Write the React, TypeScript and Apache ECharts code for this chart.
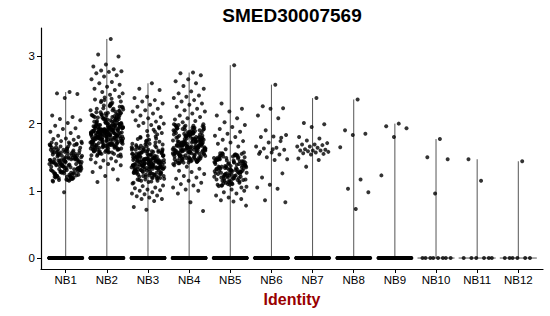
import React, { useEffect, useRef } from "react";
import * as echarts from "echarts";

const categories = ["NB1", "NB2", "NB3", "NB4", "NB5", "NB6", "NB7", "NB8", "NB9", "NB10", "NB11", "NB12"];
const yTicks = [0, 1, 2, 3];
const chartTitle = "SMED30007569";
const xTitle = "Identity";

const nb1 = [
  2.47, 2.45, 2.44, 2.38, 2.12, 2.10, 2.07, 2.05, 2.01, 1.97, 1.93, 1.92, 1.88, 1.86, 1.82, 1.80, 1.78, 1.77, 1.76, 1.74, 1.73, 1.72, 1.70, 1.70, 0.98,
  1.42, 1.18, 1.55, 1.31, 1.63, 1.25, 1.47, 1.37, 1.69, 1.22, 1.51, 1.34, 1.44, 1.15, 1.58, 1.28, 1.40, 1.66, 1.20, 1.49,
  1.36, 1.61, 1.27, 1.53, 1.43, 1.17, 1.57, 1.32, 1.46, 1.71, 1.24, 1.39, 1.52, 1.30, 1.64, 1.19, 1.45, 1.35, 1.59, 1.26,
  1.48, 1.41, 1.68, 1.21, 1.54, 1.33, 1.43, 1.14, 1.60, 1.29, 1.50, 1.38, 1.65, 1.23, 1.46, 1.36, 1.56, 1.16, 1.44, 1.31,
  1.62, 1.27, 1.52, 1.40, 1.70, 1.22, 1.47, 1.34, 1.58, 1.18, 1.41, 1.30, 1.55, 1.25, 1.49, 1.37, 1.67, 1.20, 1.45, 1.33,
  1.60, 1.28, 1.53, 1.39, 1.43, 1.15, 1.57, 1.32, 1.48, 1.72, 1.24, 1.42, 1.35, 1.63, 1.21, 1.51, 1.38, 1.46, 1.17, 1.59,
  1.29, 1.44, 1.54, 1.26, 1.66, 1.36, 1.50, 1.23, 1.40, 1.61, 1.31, 1.47, 1.19, 1.56, 1.34, 1.43, 1.68, 1.27, 1.52, 1.39,
  1.22, 1.45, 1.58, 1.30, 1.49, 1.37, 1.64, 1.16, 1.41, 1.55, 1.28, 1.46, 1.35, 1.62, 1.24, 1.50, 1.42, 1.20, 1.57, 1.33,
  1.48, 1.38, 1.69, 1.26, 1.44, 1.53, 1.32, 1.60, 1.21, 1.47,
];

const nb2 = [
  3.26, 3.03, 3.00, 2.88, 2.85, 2.81, 2.79, 2.78, 2.77, 2.75, 2.72, 2.70, 2.66, 2.62, 2.60, 2.58, 2.55, 2.52, 2.50, 2.47, 2.45, 2.43,
  1.13, 1.17, 1.22, 1.28, 1.32, 1.35, 1.38, 1.40, 1.42, 1.44, 1.45, 1.47, 1.48,
  1.88, 1.62, 2.12, 1.75, 1.97, 1.55, 2.25, 1.83, 1.68, 2.05, 1.92, 1.71, 2.31, 1.59, 1.86, 2.01, 1.78, 2.18, 1.65, 1.94,
  1.81, 2.09, 1.52, 1.90, 1.73, 2.22, 1.87, 1.63, 1.99, 1.77, 2.14, 1.69, 1.85, 2.37, 1.58, 1.95, 1.80, 2.03, 1.66, 1.91,
  1.74, 2.27, 1.84, 1.61, 2.07, 1.89, 1.70, 1.98, 1.54, 2.16, 1.82, 1.93, 1.67, 2.20, 1.76, 1.87, 2.10, 1.60, 1.96, 1.79,
  2.34, 1.72, 1.89, 2.00, 1.64, 1.85, 2.13, 1.57, 1.92, 1.81, 2.06, 1.69, 1.97, 1.76, 2.24, 1.83, 1.62, 1.90, 2.02, 1.74,
  1.88, 2.17, 1.51, 1.94, 1.79, 2.08, 1.66, 1.86, 2.29, 1.71, 1.99, 1.84, 1.59, 2.11, 1.77, 1.93, 1.68, 2.04, 1.82, 2.39,
  1.73, 1.91, 1.56, 2.15, 1.87, 1.64, 1.98, 1.80, 2.21, 1.70, 1.95, 1.85, 2.01, 1.61, 1.89, 2.32, 1.75, 1.92, 1.67, 2.09,
  1.83, 1.53, 1.97, 1.78, 2.19, 1.88, 1.65, 2.05, 1.72, 1.94, 2.26, 1.81, 1.90, 1.58, 2.12, 1.76, 1.86, 2.00, 1.69, 1.93,
  1.84, 2.23, 1.63, 1.96, 1.79, 2.07, 1.74, 1.89, 1.55, 2.14, 1.87, 1.70, 2.02, 1.82, 2.35, 1.66, 1.91, 1.78, 1.99, 1.60,
  2.10, 1.85, 1.73, 1.95, 2.28, 1.80, 1.62, 2.04, 1.88, 1.68, 1.92, 2.16, 1.57, 1.86, 1.77, 2.08, 1.83, 1.71, 1.98, 2.40,
  1.75, 1.90, 1.64, 2.13, 1.81, 1.94, 1.52, 2.01, 1.87, 1.69, 2.20, 1.84, 1.78, 1.97, 1.60, 2.06, 1.89, 1.72, 2.30, 1.80,
  1.93, 1.67, 2.11, 1.86, 1.76, 1.99, 1.58, 2.17, 1.82, 1.91, 1.73, 2.03, 1.88, 2.25, 1.65, 1.95, 1.79, 2.09, 1.70, 1.85,
  1.54, 2.14, 1.90, 1.77, 2.00, 1.83, 2.33, 1.63, 1.96, 1.74, 2.07, 1.87, 1.68, 1.92, 2.19, 1.81, 1.59, 2.02, 1.86, 1.75,
  1.94, 2.22, 1.71, 1.89, 1.80, 2.10, 1.56, 1.97, 1.84, 2.36, 1.66, 1.91, 1.78, 2.05, 1.88, 1.73, 2.15, 1.61, 1.93, 1.82,
  2.01, 1.76, 1.98, 1.69, 2.27, 1.85, 1.90, 1.64, 2.12, 1.79,
];

const nb3 = [
  2.60, 2.52, 2.50, 2.40, 2.38, 2.35, 2.33, 2.30, 2.28, 2.25, 2.22, 2.20, 2.18, 2.15, 2.12, 2.10, 2.08, 2.05, 2.03, 2.01, 2.00, 1.98, 1.97, 1.95,
  0.72, 0.76, 0.85, 0.88, 0.88, 0.90, 0.92, 0.93, 0.95, 0.96, 0.98, 1.00, 1.01, 1.02, 1.04, 1.05, 1.07, 1.08,
  1.45, 1.32, 1.58, 1.21, 1.50, 1.38, 1.67, 1.27, 1.43, 1.55, 1.35, 1.62, 1.18, 1.47, 1.40, 1.73, 1.30, 1.52, 1.24, 1.44,
  1.60, 1.36, 1.49, 1.15, 1.41, 1.70, 1.33, 1.56, 1.28, 1.46, 1.39, 1.81, 1.22, 1.53, 1.37, 1.64, 1.31, 1.48, 1.12, 1.42,
  1.57, 1.34, 1.76, 1.26, 1.51, 1.40, 1.65, 1.20, 1.45, 1.36, 1.59, 1.29, 1.88, 1.44, 1.33, 1.54, 1.17, 1.47, 1.69, 1.38,
  1.25, 1.50, 1.42, 1.61, 1.30, 1.78, 1.35, 1.46, 1.14, 1.53, 1.41, 1.66, 1.27, 1.49, 1.37, 1.58, 1.23, 1.44, 1.84, 1.32,
  1.55, 1.39, 1.63, 1.19, 1.48, 1.34, 1.72, 1.28, 1.52, 1.43, 1.36, 1.60, 1.24, 1.46, 1.91, 1.31, 1.57, 1.40, 1.68, 1.21,
  1.47, 1.35, 1.54, 1.16, 1.42, 1.75, 1.29, 1.50, 1.38, 1.62, 1.26, 1.45, 1.33, 1.59, 1.11, 1.49, 1.80, 1.37, 1.53, 1.30,
  1.44, 1.64, 1.22, 1.41, 1.56, 1.34, 1.71, 1.27, 1.48, 1.39, 1.86, 1.32, 1.51, 1.18, 1.46, 1.61, 1.36, 1.43, 1.25, 1.55,
  1.40, 1.67, 1.29, 1.52, 1.35, 1.77, 1.20, 1.47, 1.38, 1.58, 1.31, 1.44, 1.13, 1.50, 1.65, 1.37, 1.42, 1.26, 1.54, 1.93,
  1.34, 1.48, 1.23, 1.57, 1.39, 1.70, 1.28, 1.45, 1.41, 1.63, 1.19, 1.51, 1.36, 1.82, 1.30, 1.46, 1.60, 1.33, 1.53, 1.24,
  1.43, 1.74, 1.37, 1.49, 1.15, 1.56, 1.40, 1.66, 1.27, 1.47, 1.35, 1.59, 1.21, 1.44, 1.89, 1.32, 1.52, 1.38, 1.69, 1.29,
  1.50, 1.42, 1.17, 1.55, 1.36, 1.79, 1.25, 1.48, 1.61, 1.34,
];

const nb4 = [
  2.76, 2.75, 2.72, 2.66, 2.63, 2.60, 2.56, 2.52, 2.48, 2.45, 2.42, 2.40, 2.38, 2.35, 2.33, 2.30, 2.28, 2.25, 2.22, 2.20,
  2.18, 2.15, 2.12, 2.10, 2.08, 2.06, 2.04, 2.02,
  0.70, 0.83, 0.96, 1.00, 1.02, 1.05, 1.08, 1.10, 1.12, 1.15, 1.18, 1.20, 1.22, 1.25, 1.28, 1.30, 1.33, 1.36, 1.38,
  1.65, 1.48, 1.82, 1.57, 1.93, 1.44, 1.71, 1.60, 1.87, 1.52, 1.76, 1.63, 1.98, 1.46, 1.68, 1.55, 1.84, 1.41, 1.73, 1.61,
  1.90, 1.50, 1.67, 1.79, 1.58, 1.95, 1.43, 1.70, 1.62, 1.86, 1.53, 1.75, 1.66, 1.47, 1.89, 1.59, 1.72, 1.81, 1.45, 1.64,
  1.97, 1.56, 1.78, 1.69, 1.51, 1.85, 1.60, 1.74, 1.42, 1.92, 1.66, 1.54, 1.80, 1.63, 1.99, 1.49, 1.71, 1.58, 1.88, 1.67,
  1.44, 1.77, 1.61, 1.94, 1.52, 1.69, 1.83, 1.56, 1.73, 1.47, 1.91, 1.64, 1.57, 1.79, 1.68, 1.40, 1.86, 1.62, 1.75, 1.50,
  1.96, 1.59, 1.72, 1.65, 1.45, 1.82, 1.55, 1.70, 1.88, 1.53, 1.67, 1.78, 1.48, 1.93, 1.60, 1.74, 1.63, 1.85, 1.43, 1.69,
  1.57, 1.90, 1.66, 1.51, 1.76, 1.61, 1.98, 1.46, 1.81, 1.64, 1.54, 1.72, 1.87, 1.58, 1.68, 1.44, 1.95, 1.62, 1.77, 1.49,
  1.84, 1.65, 1.56, 1.71, 1.92, 1.60, 1.47, 1.80, 1.67, 1.53, 1.75, 1.97, 1.58, 1.69, 1.42, 1.86, 1.63, 1.73, 1.55, 1.89,
  1.66, 1.50, 1.78, 1.61, 1.94, 1.45, 1.70, 1.83, 1.57, 1.64, 1.91, 1.52, 1.74, 1.68, 1.48, 1.87, 1.59, 1.76, 1.62, 1.99,
  1.44, 1.71, 1.65, 1.81, 1.54, 1.93, 1.60, 1.67, 1.46, 1.79, 1.57, 1.85, 1.63, 1.72, 1.41, 1.90, 1.66, 1.51, 1.77, 1.69,
  1.96, 1.58, 1.74, 1.47, 1.82, 1.62, 1.88, 1.53, 1.70, 1.64, 1.43, 1.80, 1.60, 1.95, 1.56, 1.73, 1.67, 1.49, 1.84, 1.61,
];

const nb5 = [
  2.87, 2.30, 2.22, 2.18, 2.12, 2.08, 2.02, 1.98, 1.95, 1.92, 1.88, 1.85, 1.82, 1.80, 1.76, 1.74, 1.72, 1.70, 1.66, 1.62,
  0.78, 0.84, 0.86, 0.88, 0.90, 0.93, 0.96, 0.98, 1.00, 1.02,
  1.30, 1.12, 1.45, 1.21, 1.53, 1.08, 1.38, 1.26, 1.49, 1.16, 1.34, 1.42, 1.19, 1.56, 1.28, 1.10, 1.40, 1.23, 1.51, 1.33,
  1.14, 1.47, 1.27, 1.36, 1.06, 1.43, 1.20, 1.55, 1.31, 1.17, 1.39, 1.24, 1.50, 1.11, 1.35, 1.44, 1.22, 1.29, 1.54, 1.15,
  1.41, 1.32, 1.09, 1.48, 1.25, 1.37, 1.18, 1.52, 1.28, 1.13, 1.46, 1.34, 1.21, 1.57, 1.30, 1.07, 1.40, 1.26, 1.49, 1.19,
  1.36, 1.44, 1.15, 1.33, 1.53, 1.23, 1.38, 1.10, 1.47, 1.29, 1.20, 1.42, 1.31, 1.55, 1.16, 1.37, 1.25, 1.50, 1.12, 1.35,
  1.45, 1.27, 1.05, 1.41, 1.32, 1.52, 1.18, 1.39, 1.24, 1.48, 1.14, 1.34, 1.43, 1.22, 1.56, 1.30, 1.09, 1.46, 1.28, 1.37,
  1.17, 1.51, 1.33, 1.21, 1.40, 1.26, 1.54, 1.11, 1.44, 1.31, 1.36, 1.19, 1.49, 1.27, 1.42, 1.08, 1.35, 1.23, 1.47, 1.32,
  1.15, 1.38, 1.29, 1.52, 1.25,
];

const nb6 = [
  2.58, 2.26, 2.23, 2.22, 2.12, 2.08, 1.90, 1.83, 1.81, 1.80, 1.79, 1.72, 1.66, 1.64, 1.63, 1.61,
  1.57, 1.55, 1.54, 1.50, 1.47, 1.46, 1.20, 1.26, 1.09, 1.05, 1.03, 0.86, 0.83, 1.62, 1.58, 1.74,
];
const nb7 = [
  2.38, 2.01, 1.99, 1.95, 1.80, 1.78, 1.75, 1.71, 1.69, 1.69, 1.68, 1.66, 1.66, 1.64,
  1.62, 1.61, 1.60, 1.60, 1.60, 1.59, 1.58, 1.57, 1.56, 1.55, 1.54, 1.48, 1.46, 1.36,
];
const nb8 = [2.36, 1.90, 1.85, 1.83, 1.65, 1.17, 1.03, 0.98, 0.73];
const nb9 = [2.0, 1.96, 1.93, 1.80, 1.23];
const nb10 = [1.77, 1.5, 1.47, 0.96];
const nb11 = [1.15, 1.47];
const nb12 = [1.44];

const zeroCounts = [300, 260, 280, 260, 240, 200, 180, 160, 150, 8, 6, 6];

export default function App() {
  const ref = useRef<HTMLDivElement>(null);
  useEffect(() => {
    if (!ref.current) return;
    const chart = echarts.init(ref.current, null, { renderer: "svg" });
    const groups = [nb1, nb2, nb3, nb4, nb5, nb6, nb7, nb8, nb9, nb10, nb11, nb12];
    const points: number[][] = [];
    groups.forEach((vals, g) => {
      const all = vals.concat(new Array(zeroCounts[g]).fill(0));
      all.forEach((v, i) => {
        const f = ((i + 1) * 0.6180339887) % 1;
        points.push([g + 1 + (f - 0.5) * 0.8, v]);
      });
    });
    const maxes = groups.map((v, g) => [g + 1, Math.max(...v)]);
    const yMax = Math.max(...groups.map((v) => Math.max(...v)));
    const pad = yMax * 0.05;
    const catVals = categories.map((_, i) => i + 1);
    const font = "Liberation Sans, Arial, Helvetica, sans-serif";

    chart.setOption({
      animation: false,
      grid: { left: 41, right: 7, top: 28, bottom: 47 },
      xAxis: {
        type: "value",
        min: 0.4,
        max: 12.6,
        splitLine: { show: false },
        axisLine: { show: true, onZero: false, lineStyle: { color: "#000", width: 1.2 } },
        axisTick: { show: true, customValues: catVals, length: 4, lineStyle: { color: "#000", width: 1 } },
        axisLabel: {
          customValues: catVals,
          formatter: (v: number) => categories[Math.round(v) - 1] ?? "",
          color: "#000",
          fontSize: 11.5,
          fontFamily: font,
          margin: 5,
        },
      },
      yAxis: {
        type: "value",
        min: -pad,
        max: yMax + pad,
        splitLine: { show: false },
        axisLine: { show: true, onZero: false, lineStyle: { color: "#000", width: 1.2 } },
        axisTick: { show: true, customValues: yTicks, length: 4, lineStyle: { color: "#000", width: 1 } },
        axisLabel: {
          customValues: yTicks,
          color: "#000",
          fontSize: 11.5,
          fontFamily: font,
          margin: 6,
        },
      },
      graphic: [
        {
          type: "text",
          x: 292,
          y: 15,
          style: {
            text: chartTitle,
            fill: "#000",
            font: `bold 19px ${font}`,
            textAlign: "center",
            textVerticalAlign: "middle",
          },
        },
        {
          type: "text",
          x: 292,
          y: 299,
          style: {
            text: xTitle,
            fill: "#990000",
            font: `bold 16px ${font}`,
            textAlign: "center",
            textVerticalAlign: "middle",
          },
        },
      ],
      series: [
        {
          type: "custom",
          z: 1,
          data: maxes,
          renderItem: (_p: any, api: any) => {
            const x = api.value(0);
            const top = api.value(1);
            const p0 = api.coord([x, 0]);
            const p1 = api.coord([x, top]);
            const pl = api.coord([x - 0.45, 0]);
            const pr = api.coord([x + 0.45, 0]);
            return {
              type: "group",
              children: [
                {
                  type: "line",
                  shape: { x1: p0[0], y1: p0[1], x2: p1[0], y2: p1[1] },
                  style: { stroke: "#555", lineWidth: 1 },
                },
                {
                  type: "line",
                  shape: { x1: pl[0], y1: pl[1], x2: pr[0], y2: pr[1] },
                  style: { stroke: "#555", lineWidth: 1 },
                },
              ],
            };
          },
        },
        {
          type: "scatter",
          z: 2,
          symbol: "circle",
          symbolSize: 4,
          itemStyle: { color: "#000" },
          data: points,
        },
      ],
    });
    return () => chart.dispose();
  }, []);
  return <div ref={ref} style={{ position: "absolute", left: 0, top: 0, width: 550, height: 316 }} />;
}
